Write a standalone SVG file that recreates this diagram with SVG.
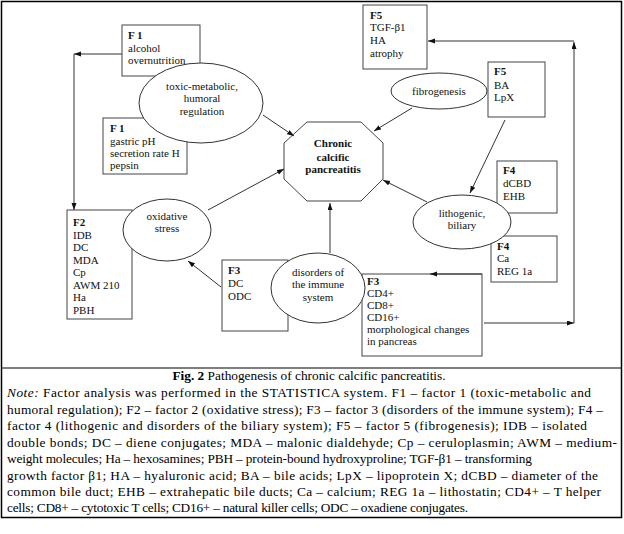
<svg xmlns="http://www.w3.org/2000/svg" width="624" height="534" viewBox="0 0 624 534">
<style>
.box{fill:#fff;stroke:#444;stroke-width:1}
.ov{fill:#fff;stroke:#333;stroke-width:1}
.ln{fill:none;stroke:#333;stroke-width:1;marker-end:url(#ah)}
.t{font-family:"Liberation Serif","Times New Roman",serif;font-size:11px;fill:#111}
.b{font-weight:bold}
.c{text-anchor:middle}
.cap{font-family:"Liberation Serif","Times New Roman",serif;font-size:13.33px;fill:#000}
</style>
<defs>
<marker id="ah" markerUnits="userSpaceOnUse" markerWidth="8" markerHeight="6" refX="7" refY="2.5" orient="auto">
<path d="M0,0 L7,2.5 L0,5 z" fill="#111"/>
</marker>
</defs>
<rect x="0" y="0" width="624" height="534" fill="#fff"/>
<rect x="1.5" y="1.5" width="620" height="516" fill="none" stroke="#000" stroke-width="1.5"/>
<line x1="1.5" y1="368" x2="621.5" y2="368" stroke="#000" stroke-width="1.2"/>

<g id="f1-alcohol">
<rect class="box" x="122" y="25" width="78" height="51"/>
<text class="t" x="128" y="39"><tspan class="b">F 1</tspan><tspan x="128" y="51.5">alcohol</tspan><tspan x="128" y="64">overnutrition</tspan></text>
</g>
<g id="f1-gastric">
<rect class="box" x="103" y="118" width="84" height="56"/>
<text class="t" x="110" y="131.5"><tspan class="b">F 1</tspan><tspan x="110" y="144.5">gastric pH</tspan><tspan x="110" y="157">secretion rate H</tspan><tspan x="110" y="169">pepsin</tspan></text>
</g>
<g id="toxic">
<ellipse class="ov" cx="201" cy="103" rx="62" ry="40"/>
<text class="t c" x="202" y="89.5">toxic-metabolic,<tspan x="202" y="102">humoral</tspan><tspan x="202" y="114.5">regulation</tspan></text>
</g>
<g id="f2">
<rect class="box" x="67" y="210" width="65" height="109"/>
<text class="t" x="73" y="226"><tspan class="b">F2</tspan><tspan x="73" y="238.5">IDB</tspan><tspan x="73" y="251">DC</tspan><tspan x="73" y="263.5">MDA</tspan><tspan x="73" y="276">Cp</tspan><tspan x="73" y="288.5">AWM 210</tspan><tspan x="73" y="301">Ha</tspan><tspan x="73" y="313.5">PBH</tspan></text>
</g>
<g id="oxidative">
<ellipse class="ov" cx="167" cy="230" rx="44" ry="31"/>
<text class="t c" x="167" y="219.5">oxidative<tspan x="167" y="231.5">stress</tspan></text>
</g>
<g id="f3-small">
<rect class="box" x="222" y="260" width="66" height="71"/>
<text class="t" x="228" y="274"><tspan class="b">F3</tspan><tspan x="228" y="287">DC</tspan><tspan x="228" y="300">ODC</tspan></text>
</g>
<g id="f3-big">
<rect class="box" x="362" y="274" width="120" height="82"/>
<text class="t" x="367" y="284.5"><tspan class="b">F3</tspan><tspan x="367" y="297">CD4+</tspan><tspan x="367" y="309">CD8+</tspan><tspan x="367" y="321">CD16+</tspan><tspan x="367" y="333">morphological changes</tspan><tspan x="367" y="345">in pancreas</tspan></text>
</g>
<g id="immune">
<ellipse class="ov" cx="318" cy="288" rx="47" ry="35"/>
<text class="t c" x="318" y="275.5">disorders of<tspan x="318" y="288">the immune</tspan><tspan x="318" y="300.5">system</tspan></text>
</g>
<g id="f5-tgf">
<rect class="box" x="363" y="5" width="64" height="64"/>
<text class="t" x="370" y="19"><tspan class="b">F5</tspan><tspan x="370" y="31">TGF-β1</tspan><tspan x="370" y="44">HA</tspan><tspan x="370" y="56.5">atrophy</tspan></text>
</g>
<g id="f5-ba">
<rect class="box" x="488" y="62" width="57" height="55"/>
<text class="t" x="494" y="75"><tspan class="b">F5</tspan><tspan x="494" y="88.5">BA</tspan><tspan x="494" y="101">LpX</tspan></text>
</g>
<g id="fibrogenesis">
<ellipse class="ov" cx="439" cy="91" rx="48" ry="18"/>
<text class="t c" x="439" y="94.5">fibrogenesis</text>
</g>
<g id="f4-dcbd">
<rect class="box" x="497" y="161" width="60" height="52"/>
<text class="t" x="503" y="174"><tspan class="b">F4</tspan><tspan x="503" y="187">dCBD</tspan><tspan x="503" y="200">EHB</tspan></text>
</g>
<g id="f4-ca">
<rect class="box" x="491" y="236" width="66" height="46"/>
<text class="t" x="497" y="249.5"><tspan class="b">F4</tspan><tspan x="497" y="262">Ca</tspan><tspan x="497" y="274.5">REG 1a</tspan></text>
</g>
<g id="lithogenic">
<ellipse class="ov" cx="462" cy="222" rx="49" ry="27"/>
<text class="t c" x="462" y="216.5">lithogenic,<tspan x="462" y="228.5">biliary</tspan></text>
</g>
<g id="ccp">
<polygon class="box" points="307,122 361,122 383,143 383,179 361,201 307,201 284,179 284,143"/>
<text class="t b c" x="333" y="147">Chronic<tspan x="333" y="160.5">calcific</tspan><tspan x="333" y="173">pancreatitis</tspan></text>
</g>

<g id="connectors">
<path class="ln" d="M122,54 L74,54"/>
<path class="ln" d="M74,54 L74,210"/>
<path class="ln" d="M263,115 L294,136"/>
<path class="ln" d="M208,210 L284,169"/>
<path class="ln" d="M221,287 L188,261"/>
<path class="ln" d="M330,253 L330,203"/>
<path class="ln" d="M412,108 L374,131"/>
<path class="ln" d="M427,202 L383,180"/>
<path class="ln" d="M505,120 L470,193"/>
<path class="ln" d="M482,274 L430,274"/>
<path class="ln" d="M484,323 L574,323"/>
<path class="ln" d="M574,323 L574,42"/>
<path class="ln" d="M574,41 L428,41"/>
</g>

<g id="caption">
<text class="cap" x="309" y="380" text-anchor="middle"><tspan font-weight="bold">Fig. 2</tspan> Pathogenesis of chronic calcific pancreatitis.</text>
<text class="cap" x="7" y="397" textLength="584"><tspan font-style="italic">Note:</tspan> Factor analysis was performed in the STATISTICA system. F1 – factor 1 (toxic-metabolic and</text>
<text class="cap" x="7" y="413.5" textLength="596">humoral regulation); F2 – factor 2 (oxidative stress); F3 – factor 3 (disorders of the immune system); F4 –</text>
<text class="cap" x="7" y="430" textLength="580">factor 4 (lithogenic and disorders of the biliary system); F5 – factor 5 (fibrogenesis); IDB – isolated</text>
<text class="cap" x="7" y="446.5" textLength="610">double bonds; DC – diene conjugates; MDA – malonic dialdehyde; Cp – ceruloplasmin; AWM – medium-</text>
<text class="cap" x="7" y="463" textLength="525">weight molecules; Ha – hexosamines; PBH – protein-bound hydroxyproline; TGF-β1 – transforming</text>
<text class="cap" x="7" y="479.5" textLength="591">growth factor β1; HA – hyaluronic acid; BA – bile acids; LpX – lipoprotein X; dCBD – diameter of the</text>
<text class="cap" x="7" y="496" textLength="594">common bile duct; EHB – extrahepatic bile ducts; Ca – calcium; REG 1a – lithostatin; CD4+ – T helper</text>
<text class="cap" x="7" y="512" textLength="461">cells; CD8+ – cytotoxic T cells; CD16+ – natural killer cells; ODC – oxadiene conjugates.</text>
</g>
</svg>
